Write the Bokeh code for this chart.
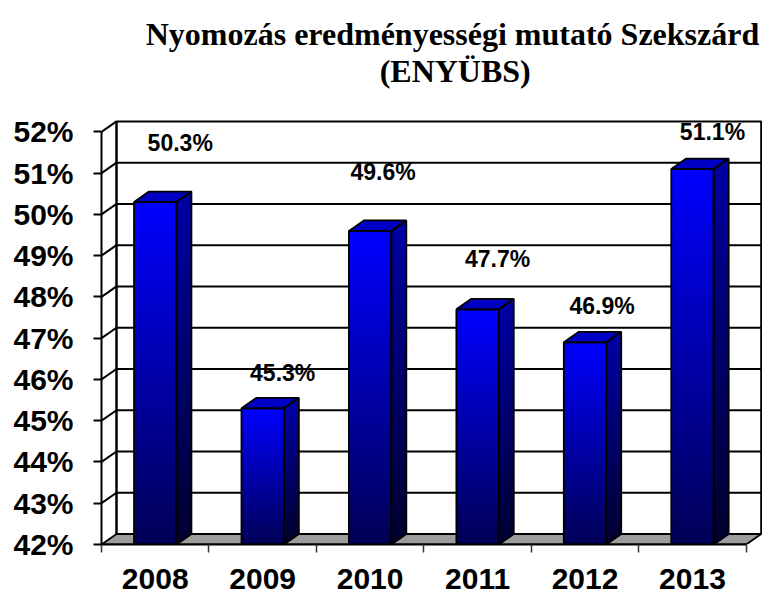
from bokeh.plotting import figure
from bokeh.models import Range1d, FixedTicker, ColumnDataSource
from bokeh.embed import file_html
from bokeh.resources import INLINE
from bokeh.core.properties import value

# ---------------- data ----------------
years = ["2008", "2009", "2010", "2011", "2012", "2013"]
rates = [50.3, 45.3, 49.6, 47.7, 46.9, 51.1]
rate_labels = ["50.3%", "45.3%", "49.6%", "47.7%", "46.9%", "51.1%"]
y_ticks = [42, 43, 44, 45, 46, 47, 48, 49, 50, 51, 52]
y_tick_labels = ["42%", "43%", "44%", "45%", "46%", "47%", "48%", "49%", "50%", "51%", "52%"]
title_lines = ["Nyomozás eredményességi mutató Szekszárd", "(ENYÜBS)"]

# ---------------- layout / style ----------------
label_dx = [25, 20, 13, 20, 17, 20]        # screen px offset of value labels
label_dy = [-59, -35, -59, -50, -36, -37]
title_center_px = [452, 454.7]             # page px (x centre of each title line)
title_baseline_px = [33.3, 70.7]           # page px (baseline of each title line)

PX_X = 107.45           # px per category
PX_Y = 41.26            # px per percent
FIG_W, FIG_H = 762, 594
B_LEFT, B_RIGHT, B_TOP, B_BOTTOM = 101, 0, 0, 50
FRAME_W = FIG_W - B_LEFT - B_RIGHT
FRAME_H = FIG_H - B_TOP - B_BOTTOM
FRAME_BOTTOM = FIG_H - B_BOTTOM
Y_MIN = y_ticks[0]
Y_MAX = y_ticks[-1]
N_CAT = len(years)
DX = 15 / PX_X          # 3D depth (x)
DY = 10.5 / PX_Y        # 3D depth (y)
BAR_W = 42.4 / PX_X
N_STRIPS = 60

FRONT_TOP, FRONT_BOT = (0, 0, 255), (0, 0, 85)
SIDE_TOP, SIDE_BOT = (0, 0, 165), (0, 0, 48)
TOP_FACE = "#0000c4"
FLOOR = "#9c9c9c"


def blend(c1, c2, t):
    return "#%02x%02x%02x" % tuple(int(round(b + (a - b) * t)) for a, b in zip(c1, c2))


p = figure(width=FIG_W, height=FIG_H, output_backend="svg", toolbar_location=None,
           x_range=Range1d(0, FRAME_W / PX_X),
           y_range=Range1d(Y_MIN, Y_MIN + FRAME_H / PX_Y),
           min_border_left=B_LEFT, min_border_right=B_RIGHT,
           min_border_top=B_TOP, min_border_bottom=B_BOTTOM)
p.outline_line_color = None
p.xgrid.visible = False
p.ygrid.visible = False
p.background_fill_color = "white"
p.border_fill_color = "white"
p.title.visible = False

# ---------------- title (two centred lines) ----------------
p.text(x=[(cx - B_LEFT) / PX_X for cx in title_center_px],
       y=[Y_MIN + (FRAME_BOTTOM - by) / PX_Y for by in title_baseline_px],
       text=title_lines, text_align="center", text_baseline="alphabetic",
       text_font=value("Liberation Serif"), text_font_size="32px",
       text_font_style="bold", text_color="black")

# ---------------- walls and floor ----------------
p.quad(left=[DX], right=[N_CAT + DX], bottom=[Y_MIN + DY], top=[Y_MAX + DY],
       fill_color="white", line_color="black", line_width=2)
gy = [v + DY for v in y_ticks[1:-1]]
p.segment(x0=[DX] * len(gy), x1=[N_CAT + DX] * len(gy), y0=gy, y1=gy,
          line_color="black", line_width=2)
p.segment(x0=[0] * (len(y_ticks) - 1), x1=[DX] * (len(y_ticks) - 1),
          y0=y_ticks[1:], y1=[v + DY for v in y_ticks[1:]],
          line_color="black", line_width=2)
p.segment(x0=[DX], x1=[DX], y0=[Y_MIN + DY], y1=[Y_MAX + DY], line_color="black", line_width=2)
p.patch(x=[0, N_CAT, N_CAT + DX, DX], y=[Y_MIN, Y_MIN, Y_MIN + DY, Y_MIN + DY],
        fill_color=FLOOR, line_color="black", line_width=1.8)

# ---------------- bars (gradient built from overlapping strips) ----------------
fl, fr, ft, fc = [], [], [], []
sxs, sys, sc = [], [], []
txs, tys = [], []
oxs, oys = [], []
centers = [i + 0.5 for i in range(N_CAT)]
for c, v in zip(centers, rates):
    xl, xr = c - BAR_W / 2, c + BAR_W / 2
    for k in range(N_STRIPS - 1, -1, -1):
        t = Y_MIN + (v - Y_MIN) * (k + 1) / N_STRIPS
        tt = (k + 0.5) / N_STRIPS
        fl.append(xl); fr.append(xr); ft.append(t)
        fc.append(blend(FRONT_TOP, FRONT_BOT, tt))
        sxs.append([xr, xr + DX, xr + DX, xr])
        sys.append([Y_MIN, Y_MIN + DY, t + DY, t])
        sc.append(blend(SIDE_TOP, SIDE_BOT, tt))
    txs.append([xl, xr, xr + DX, xl + DX])
    tys.append([v, v, v + DY, v + DY])
    oxs.append([xr, xr + DX, xr + DX, xr])
    oys.append([Y_MIN, Y_MIN + DY, v + DY, v])

p.quad(left=fl, right=fr, bottom=[Y_MIN] * len(fl), top=ft, fill_color=fc, line_color=None)
p.patches(xs=sxs, ys=sys, fill_color=sc, line_color=None)
p.patches(xs=txs, ys=tys, fill_color=TOP_FACE, line_color="black", line_width=1.8)
p.patches(xs=oxs, ys=oys, fill_color=None, line_color="black", line_width=1.8)
p.quad(left=[c - BAR_W / 2 for c in centers], right=[c + BAR_W / 2 for c in centers],
       bottom=[Y_MIN] * N_CAT, top=rates, fill_color=None, line_color="black", line_width=1.8)

# ---------------- value labels ----------------
src = ColumnDataSource(dict(x=centers, y=rates, text=rate_labels, dx=label_dx, dy=label_dy))
p.text(x="x", y="y", text="text", x_offset="dx", y_offset="dy", source=src,
       text_align="center", text_baseline="middle", text_font=value("Liberation Sans"),
       text_font_style="bold", text_font_size="23px", text_color="black")

# ---------------- axes ----------------
ya = p.yaxis[0]
ya.ticker = FixedTicker(ticks=y_ticks)
ya.major_label_overrides = {v: s for v, s in zip(y_ticks, y_tick_labels)}
ya.bounds = (Y_MIN, Y_MAX)
ya.axis_line_color = "black"
ya.axis_line_width = 2
ya.major_tick_out = 8
ya.major_tick_in = 0
ya.major_tick_line_width = 2
ya.major_tick_line_color = "black"
ya.minor_tick_line_color = None
ya.major_label_standoff = 20
ya.major_label_text_font = "Liberation Sans"
ya.major_label_text_font_style = "bold"
ya.major_label_text_font_size = "30px"
ya.major_label_text_color = "black"

xa = p.xaxis[0]
xa.ticker = FixedTicker(ticks=centers, minor_ticks=list(range(N_CAT + 1)))
xa.major_label_overrides = {c: y for c, y in zip(centers, years)}
xa.bounds = (0, N_CAT)
xa.axis_line_color = "black"
xa.axis_line_width = 2
xa.major_tick_line_color = None
xa.major_tick_out = 0
xa.major_tick_in = 0
xa.minor_tick_out = 8
xa.minor_tick_in = 0
xa.minor_tick_line_color = "#333333"
xa.minor_tick_line_width = 1.5
xa.major_label_standoff = 16
xa.major_label_text_font = "Liberation Sans"
xa.major_label_text_font_style = "bold"
xa.major_label_text_font_size = "30px"
xa.major_label_text_color = "black"

open("out.html", "w").write(file_html(p, INLINE))
